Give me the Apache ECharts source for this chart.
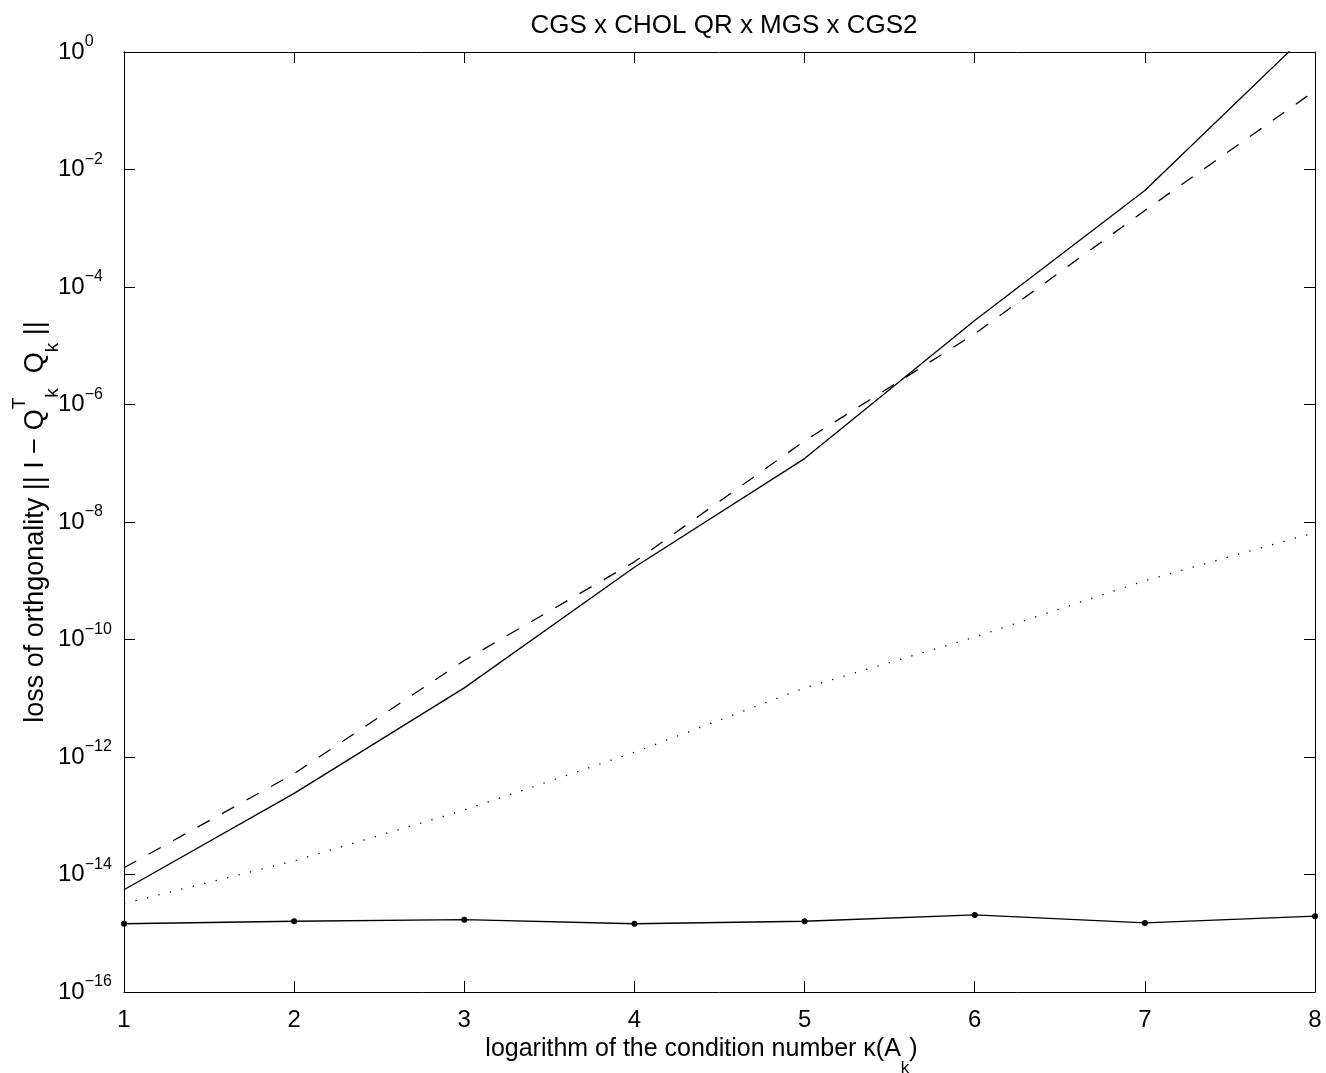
<!DOCTYPE html>
<html>
<head>
<meta charset="utf-8">
<title>CGS x CHOL QR x MGS x CGS2</title>
<script src="https://cdn.jsdelivr.net/npm/echarts@6/dist/echarts.min.js"></script>
<style>
  html, body { margin: 0; padding: 0; background: #fff; }
  #chart { width: 1326px; height: 1073px; }
</style>
</head>
<body>
<div id="chart"></div>
<script>
// log10 of the condition number
const kappaLog = [1, 2, 3, 4, 5, 6, 7, 8];

// loss of orthogonality for each method
const cgs    = [5.5e-15, 2.4e-13, 1.5e-11, 1.7e-9, 1.2e-7, 2.7e-5, 4.4e-3, 2.7];
const cholQR = [1.3e-14, 5.2e-13, 4.4e-11, 2.1e-9, 2.4e-7, 1.6e-5, 2.0e-3, 0.22];
const mgs    = [3.2e-15, 1.7e-14, 1.25e-13, 1.2e-12, 1.5e-11, 1.1e-10, 1.0e-9, 6.6e-9];
const cgs2   = [1.45e-15, 1.6e-15, 1.7e-15, 1.45e-15, 1.6e-15, 2.05e-15, 1.5e-15, 1.95e-15];

const FONT = 'Liberation Sans, Arial, Helvetica, sans-serif';

const pairs = (ys) => kappaLog.map((x, i) => [x, ys[i]]);

// 10^n labels
const powLabel = (value) => {
  const e = Math.round(Math.log10(value));
  const s = e < 0 ? '\u2212' + (-e) : String(e);
  return '{b|10}{e|' + s + '}';
};

const chart = echarts.init(document.getElementById('chart'));

const boxAxisX = {
  min: 1, max: 8, interval: 1,
  axisLine: { show: true, lineStyle: { color: '#000', width: 1 } },
  axisTick: { show: true, inside: true, length: 11, lineStyle: { color: '#000', width: 1 } },
  splitLine: { show: false }
};
const boxAxisY = {
  type: 'log', logBase: 10, min: 1e-16, max: 1, interval: 2,
  axisLine: { show: true, lineStyle: { color: '#000', width: 1 } },
  axisTick: { show: true, inside: true, length: 11, lineStyle: { color: '#000', width: 1 } },
  splitLine: { show: false },
  minorTick: { show: false }
};

const option = {
  animation: false,
  backgroundColor: '#fff',
  title: {
    text: 'CGS x CHOL QR x MGS x CGS2',
    left: 719, top: 8,
    textAlign: 'center',
    textStyle: { fontFamily: FONT, fontSize: 26, fontWeight: 'normal', color: '#000' }
  },
  grid: { left: 124, right: 11, top: 52, bottom: 81, containLabel: false, outerBoundsMode: 'none' },
  xAxis: [
    Object.assign({}, boxAxisX, {
      type: 'value', position: 'bottom',
      axisLabel: { show: true, margin: 16, color: '#000', fontFamily: FONT, fontSize: 24 },
      name: '{b|logarithm of the condition number \u03ba(A}{k|k}{b|)}',
      nameLocation: 'middle',
      nameGap: 29,
      nameMoveOverlap: false,
      nameTextStyle: {
        color: '#000', fontFamily: FONT, fontSize: 25,
        padding: [0, 36, 0, 0],
        rich: {
          b: { fontFamily: FONT, fontSize: 25, color: '#000', lineHeight: 56 },
          k: { fontFamily: FONT, fontSize: 17, color: '#000', lineHeight: 22, verticalAlign: 'bottom' }
        }
      }
    }),
    Object.assign({}, boxAxisX, {
      type: 'value', position: 'top',
      axisLabel: { show: false }
    })
  ],
  yAxis: [
    Object.assign({}, boxAxisY, {
      position: 'left',
      axisLabel: {
        show: true, align: 'left', margin: 66,
        formatter: powLabel,
        rich: {
          b: { fontFamily: FONT, fontSize: 24, color: '#000', lineHeight: 36 },
          e: { fontFamily: FONT, fontSize: 16, color: '#000', lineHeight: 12, verticalAlign: 'top' }
        }
      },
      name: '{b|loss of orthgonality || I \u2212 Q}{t|T}{k|k}{b|  Q}{k|k}{b| ||}',
      nameLocation: 'middle',
      nameRotate: 90,
      nameGap: 62,
      nameMoveOverlap: false,
      nameTextStyle: {
        color: '#000', fontFamily: FONT, fontSize: 27,
        rich: {
          b: { fontFamily: FONT, fontSize: 27, color: '#000', lineHeight: 52 },
          t: { fontFamily: FONT, fontSize: 19, color: '#000', lineHeight: 28, verticalAlign: 'top' },
          k: { fontFamily: FONT, fontSize: 19, color: '#000', lineHeight: 16, verticalAlign: 'bottom' }
        }
      }
    }),
    Object.assign({}, boxAxisY, {
      position: 'right',
      axisLabel: { show: false }
    })
  ],
  series: [
    {
      name: 'CGS', type: 'line', data: pairs(cgs),
      symbol: 'none', clip: true,
      lineStyle: { color: '#000', width: 1.3, type: 'solid' }
    },
    {
      name: 'CHOL QR', type: 'line', data: pairs(cholQR),
      symbol: 'none', clip: true,
      lineStyle: { color: '#000', width: 1.3, type: [14, 14] }
    },
    {
      name: 'MGS', type: 'line', data: pairs(mgs),
      symbol: 'none', clip: true,
      lineStyle: { color: '#000', width: 1.3, type: [1.3, 10.5], cap: 'butt' }
    },
    {
      name: 'CGS2', type: 'line', data: pairs(cgs2),
      symbol: 'circle', symbolSize: 6, clip: false,
      itemStyle: { color: '#000' },
      lineStyle: { color: '#000', width: 1.3 }
    }
  ]
};

chart.setOption(option);
</script>
</body>
</html>
